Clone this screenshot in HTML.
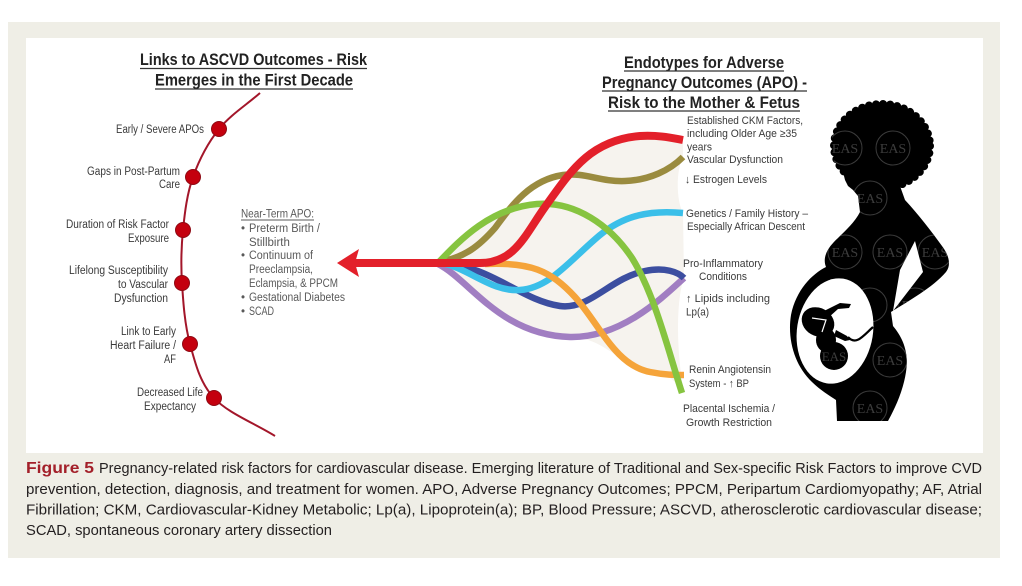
<!DOCTYPE html>
<html><head><meta charset="utf-8"><style>
html,body{margin:0;padding:0;background:#fff;}
svg{display:block;}
.s{font-family:"Liberation Sans","DejaVu Sans",sans-serif;}
.w{font-family:"Liberation Serif","DejaVu Serif",serif;}
</style></head><body>
<svg width="1022" height="586" viewBox="0 0 1022 586" xmlns="http://www.w3.org/2000/svg">
<defs>
<clipPath id="sil">
  <ellipse cx="882" cy="146" rx="51" ry="44"/>
  <path d="M848,160 L843,172 L845,180 L848,186 L853,190 L858,196 L860,212 C855,222 846,230 838,238 C828,247 822,257 826,267 C812,274 796,290 791,315 C787,340 795,366 812,382 C820,390 830,396 836,400 L837,421 L888,421 C894,410 903,392 906,372 C909,352 903,338 893,326 L891,312 C910,300 932,288 946,272 C952,264 948,254 942,246 C932,232 918,214 905,200 L900,186 L880,180 Z"/>
</clipPath>
</defs>
<rect x="0" y="0" width="1022" height="586" fill="#fff"/>
<rect x="8" y="22" width="992" height="536" fill="#efeee6"/>
<rect x="26" y="38" width="957" height="415" fill="#fff"/>

<!-- Left title -->
<g class="s" fill="#222" font-weight="bold" font-size="17">
<text class="s" x="140" y="65" textLength="227" lengthAdjust="spacingAndGlyphs">Links to ASCVD Outcomes - Risk</text>
<text class="s" x="155" y="85.5" textLength="198" lengthAdjust="spacingAndGlyphs">Emerges in the First Decade</text>
</g>
<g stroke="#333" stroke-width="1.3">
<line x1="140" y1="68.5" x2="367" y2="68.5"/>
<line x1="155" y1="89" x2="353" y2="89"/>
</g>

<!-- Left timeline curve -->
<path d="M260,93 C246.3,105 230.2,115 219,129 C207.8,143 199,160.2 193,177 C187,193.8 184.8,212.3 183,230 C181.2,247.7 180.8,264 182,283 C183.2,302 184.7,324.8 190,344 C195.3,363.2 199.8,382.7 214,398 C228.2,413.3 254.7,423.3 275,436" fill="none" stroke="#a3162a" stroke-width="2"/>
<g fill="#c4000e" stroke="#8e0a14" stroke-width="1">
<circle cx="219" cy="129" r="7.5"/>
<circle cx="193" cy="177" r="7.5"/>
<circle cx="183" cy="230" r="7.5"/>
<circle cx="182" cy="283" r="7.5"/>
<circle cx="190" cy="344" r="7.5"/>
<circle cx="214" cy="398" r="7.5"/>
</g>
<g fill="#3a3a3a" font-size="11.5">
<text class="s" x="116" y="133" textLength="88" lengthAdjust="spacingAndGlyphs">Early / Severe APOs</text>
<text class="s" x="87" y="175" textLength="93" lengthAdjust="spacingAndGlyphs">Gaps in Post-Partum</text>
<text class="s" x="159" y="188" textLength="21" lengthAdjust="spacingAndGlyphs">Care</text>
<text class="s" x="66" y="228" textLength="103" lengthAdjust="spacingAndGlyphs">Duration of Risk Factor</text>
<text class="s" x="128" y="242" textLength="41" lengthAdjust="spacingAndGlyphs">Exposure</text>
<text class="s" x="69" y="274" textLength="99" lengthAdjust="spacingAndGlyphs">Lifelong Susceptibility</text>
<text class="s" x="118" y="288" textLength="50" lengthAdjust="spacingAndGlyphs">to Vascular</text>
<text class="s" x="114" y="302" textLength="54" lengthAdjust="spacingAndGlyphs">Dysfunction</text>
<text class="s" x="121" y="335" textLength="55" lengthAdjust="spacingAndGlyphs">Link to Early</text>
<text class="s" x="110" y="349" textLength="66" lengthAdjust="spacingAndGlyphs">Heart Failure /</text>
<text class="s" x="164" y="363" textLength="12" lengthAdjust="spacingAndGlyphs">AF</text>
<text class="s" x="137" y="396" textLength="66" lengthAdjust="spacingAndGlyphs">Decreased Life</text>
<text class="s" x="144" y="410" textLength="52" lengthAdjust="spacingAndGlyphs">Expectancy</text>
</g>

<!-- Near-term APO -->
<g fill="#595959" font-size="11.5">
<text class="s" x="241" y="217.5" textLength="73" lengthAdjust="spacingAndGlyphs">Near-Term APO:</text>
<text class="s" x="241" y="232">•</text>
<text class="s" x="249" y="232" textLength="71" lengthAdjust="spacingAndGlyphs">Preterm Birth /</text>
<text class="s" x="249" y="246">Stillbirth</text>
<text class="s" x="241" y="259">•</text>
<text class="s" x="249" y="259" textLength="64" lengthAdjust="spacingAndGlyphs">Continuum of</text>
<text class="s" x="249" y="273" textLength="64" lengthAdjust="spacingAndGlyphs">Preeclampsia,</text>
<text class="s" x="249" y="287" textLength="89" lengthAdjust="spacingAndGlyphs">Eclampsia, &amp; PPCM</text>
<text class="s" x="241" y="301">•</text>
<text class="s" x="249" y="301" textLength="96" lengthAdjust="spacingAndGlyphs">Gestational Diabetes</text>
<text class="s" x="241" y="315">•</text>
<text class="s" x="249" y="315" textLength="25" lengthAdjust="spacingAndGlyphs">SCAD</text>
</g>
<line x1="241" y1="220" x2="314" y2="220" stroke="#595959" stroke-width="1"/>

<!-- faint fill between curves -->
<path d="M438,263 C460,240 490,208 537,204 C552,202 560,190 568,176 C590,142 625,134 683,140 L683,157 C676,170 676,200 683,213 L684,278 C676,300 676,350 684,393 C670,372 655,370 640,368 C610,355 600,338 570,337 C500,335 470,280 438,264 Z" fill="#f6f3ee"/>

<!-- fan curves -->
<g fill="none" stroke-linecap="butt" stroke-width="6.5">
<path d="M438,264 C470,280 500,335 570,337 C620,338 660,300 684,278" stroke="#a17ec2"/>
<path d="M440,263 C490,265 520,300 560,306 C590,310 610,278 645,271 C665,267 678,272 684,278" stroke="#3c4ea0"/>
<path d="M438,262 C465,258 480,245 495,228 C512,205 530,180 563,175 C585,172 600,182 625,181 C650,180 670,170 683,157" stroke="#9a8b3f"/>
<path d="M438,262 C470,268 490,292 520,290 C550,288 570,260 600,235 C625,215 650,210 683,213" stroke="#3bbfe9"/>
<path d="M485,264 C530,262 550,270 575,297 C600,325 615,365 650,372 C665,375 675,375 684,375" stroke="#f5a43a"/>
<path d="M438,263 C460,240 490,208 537,204 C575,201 610,225 632,258 C655,295 668,350 682,393" stroke="#86c440"/>
<path d="M352,263 L480,263 C515,263 525,235 545,207 C570,172 590,140 640,136 C660,135 672,138 683,140" stroke="#e3202a" stroke-width="8"/>
</g>
<polygon points="337,263 359,249 355,263 359,277" fill="#e3202a"/>

<!-- Right title -->
<g fill="#222" font-weight="bold" font-size="17">
<text class="s" x="624" y="68" textLength="160" lengthAdjust="spacingAndGlyphs">Endotypes for Adverse</text>
<text class="s" x="602" y="88" textLength="205" lengthAdjust="spacingAndGlyphs">Pregnancy Outcomes (APO) -</text>
<text class="s" x="608" y="108" textLength="192" lengthAdjust="spacingAndGlyphs">Risk to the Mother &amp; Fetus</text>
</g>
<g stroke="#333" stroke-width="1.3">
<line x1="624" y1="71" x2="784" y2="71"/>
<line x1="602" y1="91" x2="807" y2="91"/>
<line x1="608" y1="111" x2="800" y2="111"/>
</g>

<!-- Right labels -->
<g fill="#3a3a3a" font-size="11">
<text class="s" x="687" y="124" textLength="116" lengthAdjust="spacingAndGlyphs">Established CKM Factors,</text>
<text class="s" x="687" y="137" textLength="110" lengthAdjust="spacingAndGlyphs">including Older Age ≥35</text>
<text class="s" x="687" y="150.5" textLength="25" lengthAdjust="spacingAndGlyphs">years</text>
<text class="s" x="687" y="163" textLength="96" lengthAdjust="spacingAndGlyphs">Vascular Dysfunction</text>
<text class="s" x="685" y="183" textLength="82" lengthAdjust="spacingAndGlyphs">↓ Estrogen Levels</text>
<text class="s" x="686" y="217" textLength="122" lengthAdjust="spacingAndGlyphs">Genetics / Family History –</text>
<text class="s" x="687" y="230" textLength="118" lengthAdjust="spacingAndGlyphs">Especially African Descent</text>
<text class="s" x="683" y="267" textLength="80" lengthAdjust="spacingAndGlyphs">Pro-Inflammatory</text>
<text class="s" x="699" y="280" textLength="48" lengthAdjust="spacingAndGlyphs">Conditions</text>
<text class="s" x="686" y="302" textLength="84" lengthAdjust="spacingAndGlyphs">↑ Lipids including</text>
<text class="s" x="686" y="315.5" textLength="23" lengthAdjust="spacingAndGlyphs">Lp(a)</text>
<text class="s" x="689" y="373" textLength="82" lengthAdjust="spacingAndGlyphs">Renin Angiotensin</text>
<text class="s" x="689" y="387" textLength="60" lengthAdjust="spacingAndGlyphs">System - ↑ BP</text>
<text class="s" x="683" y="412" textLength="92" lengthAdjust="spacingAndGlyphs">Placental Ischemia /</text>
<text class="s" x="686" y="426" textLength="86" lengthAdjust="spacingAndGlyphs">Growth Restriction</text>
</g>

<!-- Silhouette -->
<g fill="#000">
<ellipse cx="882" cy="146" rx="49" ry="43"/>
<ellipse cx="882" cy="146" rx="48" ry="42" fill="none" stroke="#000" stroke-width="8" stroke-dasharray="0.1 7" stroke-linecap="round"/>
<path d="M848,160 L843,172 L845,180 L848,186 L853,190 L858,196 L860,212 C855,222 846,230 838,238 C828,247 822,257 826,267 C812,274 796,290 791,315 C787,340 795,366 812,382 C820,390 830,396 836,400 L837,421 L888,421 C894,410 903,392 906,372 C909,352 903,338 893,326 L891,312 C910,300 932,288 946,272 C952,264 948,254 942,246 C932,232 918,214 905,200 L900,186 L880,180 Z"/>
</g>
<g clip-path="url(#sil)" fill="none" stroke="#3c3c3c" stroke-width="1">
<circle cx="845" cy="148" r="17"/><circle cx="893" cy="148" r="17"/><circle cx="870" cy="198" r="17"/>
<circle cx="845" cy="252" r="17"/><circle cx="890" cy="252" r="17"/><circle cx="935" cy="252" r="17"/>
<circle cx="870" cy="305" r="17"/><circle cx="915" cy="305" r="17"/>
<circle cx="890" cy="360" r="17"/><circle cx="870" cy="408" r="17"/><circle cx="835" cy="100" r="17"/>
<g fill="#3c3c3c" stroke="none" font-size="14" text-anchor="middle">
<text class="w" x="845" y="153">EAS</text><text class="w" x="893" y="153">EAS</text><text class="w" x="870" y="203">EAS</text>
<text class="w" x="845" y="257">EAS</text><text class="w" x="890" y="257">EAS</text><text class="w" x="935" y="257">EAS</text>
<text class="w" x="915" y="310">EAS</text><text class="w" x="890" y="365">EAS</text><text class="w" x="870" y="413">EAS</text>
</g>
</g>
<polygon points="915,241 923,272 893,311 900,270" fill="#fff"/>
<ellipse cx="835" cy="331" rx="38" ry="53" transform="rotate(9 835 331)" fill="#fff"/>
<!-- fetus -->
<g fill="#000">
<ellipse cx="818" cy="322" rx="17" ry="14" transform="rotate(30 818 322)"/>
<circle cx="834" cy="356" r="14"/>
<ellipse cx="826" cy="340" rx="10" ry="12"/>
<path d="M822,312 L840,303 L851,304 L849,308 L838,309 L828,318 Z"/>
<path d="M836,330 L847,336 L850,340 L845,341 L834,336 Z"/>
</g>
<path d="M812,318 L826,320 L822,332" fill="none" stroke="#fff" stroke-width="1.2"/>
<g fill="#3c3c3c" font-size="13" text-anchor="middle"><text class="w" x="834" y="361">EAS</text></g>
<path d="M848,337 C856,346 863,336 873,327" fill="none" stroke="#000" stroke-width="2.2"/>

<!-- Caption -->
<text class="s" x="26" y="473" font-size="16" font-weight="bold" fill="#a3202a" textLength="68" lengthAdjust="spacingAndGlyphs">Figure 5</text>
<g fill="#231f20" font-size="15">
<text class="s" x="99" y="473" textLength="883" lengthAdjust="spacingAndGlyphs">Pregnancy-related risk factors for cardiovascular disease. Emerging literature of Traditional and Sex-specific Risk Factors to improve CVD</text>
<text class="s" x="26" y="494" textLength="956" lengthAdjust="spacingAndGlyphs">prevention, detection, diagnosis, and treatment for women. APO, Adverse Pregnancy Outcomes; PPCM, Peripartum Cardiomyopathy; AF, Atrial</text>
<text class="s" x="26" y="514.5" textLength="956" lengthAdjust="spacingAndGlyphs">Fibrillation; CKM, Cardiovascular-Kidney Metabolic; Lp(a), Lipoprotein(a); BP, Blood Pressure; ASCVD, atherosclerotic cardiovascular disease;</text>
<text class="s" x="26" y="535" textLength="306" lengthAdjust="spacingAndGlyphs">SCAD, spontaneous coronary artery dissection</text>
</g>
</svg>
</body></html>
